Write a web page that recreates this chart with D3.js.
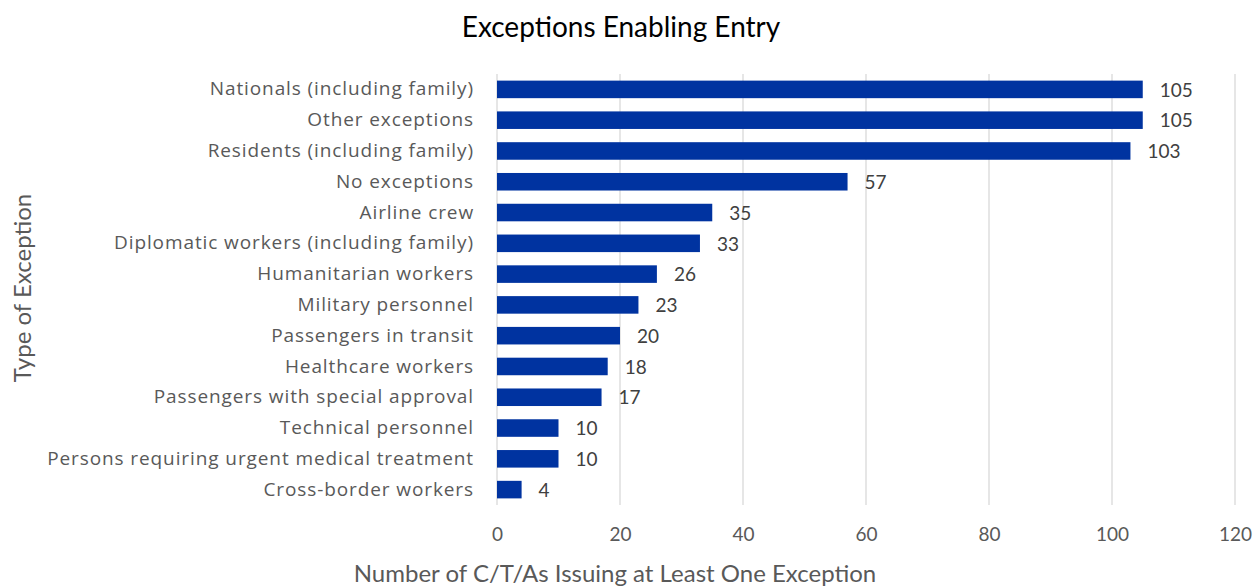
<!DOCTYPE html>
<html>
<head>
<meta charset="UTF-8">
<script src="https://d3js.org/d3.v7.min.js"></script>
<style>
  body { margin: 0; background: #fff; }
  text { font-family: Lato, "Open Sans", sans-serif; }
</style>
</head>
<body>
<script>
// chart data
var categories = [
  "Nationals (including family)",
  "Other exceptions",
  "Residents (including family)",
  "No exceptions",
  "Airline crew",
  "Diplomatic workers (including family)",
  "Humanitarian workers",
  "Military personnel",
  "Passengers in transit",
  "Healthcare workers",
  "Passengers with special approval",
  "Technical personnel",
  "Persons requiring urgent medical treatment",
  "Cross-border workers"
];
var counts = [105, 105, 103, 57, 35, 33, 26, 23, 20, 18, 17, 10, 10, 4];
var xTicks = [0, 20, 40, 60, 80, 100, 120];

var width = 1255, height = 588;
var plotLeft = 497, plotRight = 1235, plotTop = 74, plotBottom = 505;

var svg = d3.select("body").append("svg")
  .attr("width", width)
  .attr("height", height);

var x = d3.scaleLinear().domain([0, 120]).range([plotLeft, plotRight]);
var y = d3.scaleBand().domain(categories).range([plotTop, plotBottom]).paddingInner(0.43).paddingOuter(0.215);

// gridlines
svg.append("g").selectAll("line")
  .data(xTicks)
  .enter().append("line")
  .attr("x1", function(d) { return x(d); })
  .attr("x2", function(d) { return x(d); })
  .attr("y1", plotTop)
  .attr("y2", plotBottom)
  .attr("stroke", "#d9d9d9")
  .attr("stroke-width", 1.3);

// bars
svg.append("g").selectAll("rect")
  .data(counts)
  .enter().append("rect")
  .attr("x", x(0))
  .attr("y", function(d, i) { return y(categories[i]); })
  .attr("width", function(d) { return x(d) - x(0); })
  .attr("height", y.bandwidth())
  .attr("fill", "#0033a0");

// value labels
svg.append("g").selectAll("text")
  .data(counts)
  .enter().append("text")
  .attr("x", function(d) { return x(d) + 17; })
  .attr("y", function(d, i) { return y(categories[i]) + y.bandwidth() / 2; })
  .attr("dy", "0.38em")
  .attr("font-size", 19)
  .attr("fill", "#404040")
  .text(function(d) { return d; });

// category axis
var yAxis = svg.append("g")
  .attr("transform", "translate(" + plotLeft + ",0)")
  .call(d3.axisLeft(y).tickSize(0).tickPadding(23));
yAxis.select(".domain").remove();
yAxis.selectAll("text")
  .attr("font-size", 19)
  .attr("fill", "#595959")
  .style("font-family", "'Open Sans', sans-serif")
  .style("letter-spacing", "0.9px");

// value axis
var xAxis = svg.append("g")
  .attr("transform", "translate(0," + plotBottom + ")")
  .call(d3.axisBottom(x).tickValues(xTicks).tickSize(0).tickPadding(23));
xAxis.select(".domain").remove();
xAxis.selectAll("text")
  .attr("font-size", 19)
  .attr("fill", "#595959")
  .style("font-family", "Lato, sans-serif");

// titles
svg.append("text")
  .attr("x", 621)
  .attr("y", 37)
  .attr("text-anchor", "middle")
  .attr("font-size", 28)
  .attr("fill", "#000")
  .text("Exceptions Enabling Entry");

svg.append("text")
  .attr("x", 615)
  .attr("y", 582)
  .attr("text-anchor", "middle")
  .attr("font-size", 24)
  .attr("fill", "#595959")
  .text("Number of C/T/As Issuing at Least One Exception");

svg.append("text")
  .attr("transform", "translate(31,288) rotate(-90)")
  .attr("text-anchor", "middle")
  .attr("font-size", 24)
  .attr("fill", "#595959")
  .text("Type of Exception");
</script>
</body>
</html>
